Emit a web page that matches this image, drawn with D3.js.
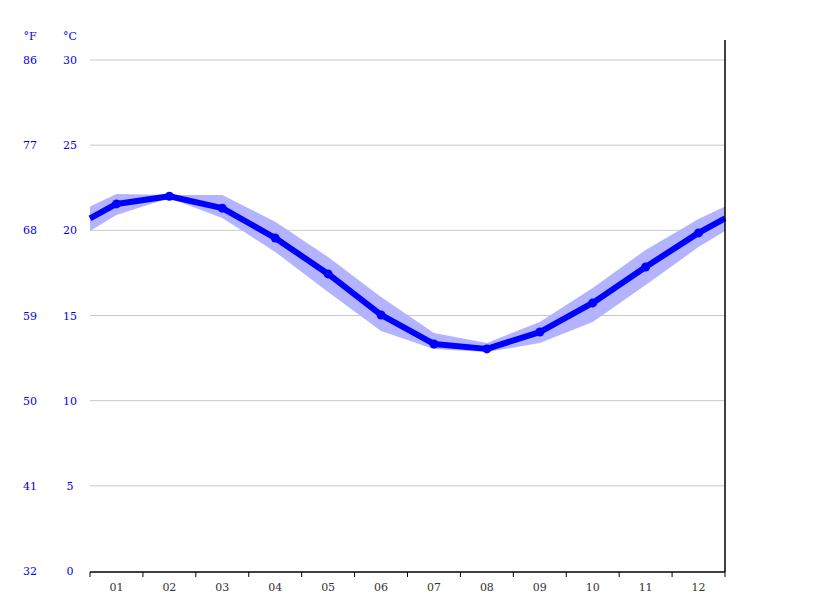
<!DOCTYPE html>
<html><head><meta charset="utf-8">
<script src="https://cdn.jsdelivr.net/npm/d3@7"></script>
<style>body{margin:0;background:#fff}</style></head>
<body><svg id="c" width="815" height="611"></svg>
<script>
const months = ["01","02","03","04","05","06","07","08","09","10","11","12"];
const avgC = [21.55,22.0,21.3,19.55,17.44,15.03,13.33,13.04,14.03,15.74,17.85,19.85];
const maxC = [22.13,22.07,22.07,20.5,18.43,16.09,13.97,13.39,14.62,16.62,18.85,20.67];
const minC = [20.9,21.9,20.73,18.73,16.38,14.09,13.03,12.85,13.39,14.62,16.79,19.02];
const cTicks = [0,5,10,15,20,25,30];
const fTicks = [32,41,50,59,68,77,86];

const svg = d3.select("#c");
const L=90,R=725,T=60,B=571;
const y = d3.scaleLinear().domain([0,30]).range([B,T]);
const band = d3.scaleBand().domain(months).range([L,R]);
const xc = m => band(m)+band.bandwidth()/2;
const font = "DejaVu Serif";

// grid
svg.append("g").selectAll("line").data(cTicks.filter(d=>d>0)).join("line")
 .attr("x1",L).attr("x2",R).attr("y1",d=>y(d)).attr("y2",d=>y(d))
 .attr("stroke","#c8c8c8").attr("stroke-width",1);

// wrap points at edges
const wrap = a => (a[0]+a[11])/2;
const pts = (arr) => [[L,wrap(arr)], ...months.map((m,i)=>[xc(m),arr[i]]), [R,wrap(arr)]];
const pMax = pts(maxC), pMin = pts(minC), pAvg = pts(avgC);

const area = d3.area().x(d=>d[0]).y0((d,i)=>y(pMin[i][1])).y1(d=>y(d[1]));
svg.append("path").datum(pMax).attr("d",area).attr("fill","#b3b3ff");

svg.append("path").datum(pAvg).attr("d",d3.line().x(d=>d[0]).y(d=>y(d[1])))
 .attr("fill","none").attr("stroke","#0000ff").attr("stroke-width",6).attr("stroke-linejoin","round");
svg.append("g").selectAll("circle").data(months).join("circle")
 .attr("cx",d=>xc(d)).attr("cy",(d,i)=>y(avgC[i])).attr("r",4.5).attr("fill","#0000ff");

// x axis
const xa = svg.append("g").attr("transform",`translate(0,${B+1})`);
xa.append("line").attr("x1",L).attr("x2",R).attr("stroke","#000").attr("stroke-width",1.5);
xa.selectAll("line.t").data(d3.range(13)).join("line").attr("class","t")
 .attr("x1",i=>L+i*band.bandwidth()).attr("x2",i=>L+i*band.bandwidth()).attr("y1",0).attr("y2",5).attr("stroke","#000");
xa.selectAll("text").data(months).join("text").attr("x",d=>xc(d)).attr("y",19)
 .attr("text-anchor","middle").attr("font-family",font).attr("font-size",11).attr("fill","#333").text(d=>d);

// right axis line
svg.append("line").attr("x1",R).attr("x2",R).attr("y1",40).attr("y2",B+1).attr("stroke","#000").attr("stroke-width",1.5);

// y labels
const yl = svg.append("g").attr("font-family",font).attr("font-size",11).attr("fill","#0000ee");
yl.selectAll("text.c").data(cTicks).join("text").attr("class","c").attr("x",70).attr("y",d=>y(d)+4)
 .attr("text-anchor","middle").text(d=>d);
yl.selectAll("text.f").data(fTicks).join("text").attr("class","f").attr("x",30).attr("y",(d,i)=>y(cTicks[i])+4)
 .attr("text-anchor","middle").text(d=>d);
yl.append("text").attr("x",30).attr("y",40).attr("text-anchor","middle").text("°F");
yl.append("text").attr("x",70).attr("y",40).attr("text-anchor","middle").text("°C");
</script></body></html>
